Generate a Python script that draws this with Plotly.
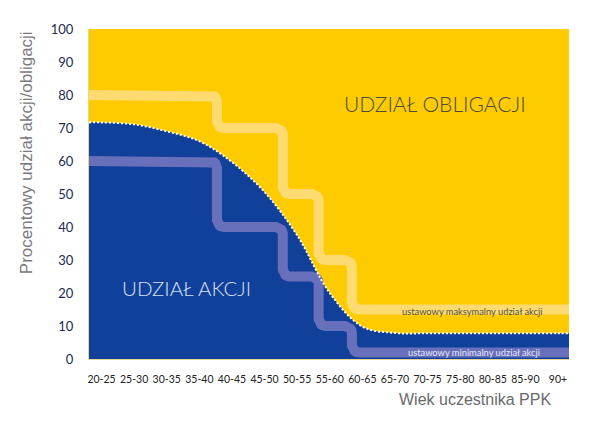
import numpy as np
import plotly.graph_objects as go

# ---- data ----
tick_labels = ["20-25", "25-30", "30-35", "35-40", "40-45", "45-50", "50-55",
               "55-60", "60-65", "65-70", "70-75", "75-80", "80-85", "85-90", "90+"]
age_centers = [22.5, 27.5, 32.5, 37.5, 42.5, 47.5, 52.5, 57.5, 62.5, 67.5, 72.5, 77.5, 82.5, 87.5, 92.5]

# equity share (stock) per age group
stock_share = [71.7, 71.1, 69.0, 66.0, 59.7, 50.6, 37.5, 20.0, 9.8, 7.9, 7.8, 7.8, 7.8, 7.8, 7.8]

# statutory limits (levels and ages where the level changes)
max_levels = [80, 70, 50, 30, 15]
min_levels = [60, 40, 25, 10, 2]
step_ages = [40.2, 50.3, 55.8, 60.9]

XMIN, XMAX = 20.58, 94.19

YELLOW = "#FDCB00"
BLUE = "#11409A"


def rounded_steps(levels, steps, x0, x1, rx, ry, n=8):
    xs, ys = [x0], [levels[0]]
    for i, s in enumerate(steps):
        hi, lo = levels[i], levels[i + 1]
        th = np.linspace(np.pi / 2, 0, n)
        cx, cy = s - rx, hi - ry
        xs += list(cx + rx * np.cos(th)); ys += list(cy + ry * np.sin(th))
        th = np.linspace(np.pi, 1.5 * np.pi, n)
        cx, cy = s + rx, lo + ry
        xs += list(cx + rx * np.cos(th)); ys += list(cy + ry * np.sin(th))
    xs.append(x1); ys.append(levels[-1])
    return xs, ys


fig = go.Figure()

# blue area (stock share)
cx = [XMIN] + age_centers + [XMAX]
cy = [stock_share[0]] + stock_share + [stock_share[-1]]
fig.add_trace(go.Scatter(x=cx, y=cy, mode="lines", line=dict(color=BLUE, width=0, shape="spline", smoothing=1.0),
                         fill="tozeroy", fillcolor=BLUE, hoverinfo="skip", showlegend=False))

rx, ry = 1.07, 2.1
mx, my = rounded_steps(max_levels, step_ages, XMIN, XMAX, rx, ry)
fig.add_trace(go.Scatter(x=mx, y=my, mode="lines", line=dict(color="#FDDB70", width=10),
                         hoverinfo="skip", showlegend=False))
nx, ny = rounded_steps(min_levels, step_ages, XMIN, XMAX, rx, ry)
fig.add_trace(go.Scatter(x=nx, y=ny, mode="lines", line=dict(color="#6870BC", width=10),
                         hoverinfo="skip", showlegend=False))

# dotted boundary
fig.add_trace(go.Scatter(x=cx, y=cy, mode="lines",
                         line=dict(color="white", width=2, dash="2px,2px", shape="spline", smoothing=1.0),
                         hoverinfo="skip", showlegend=False))

ann = [
    dict(x=73.65, y=77.3, text="UDZIAŁ OBLIGACJI", font=dict(family="Lato", size=21, weight=300, color="#4d4a3a")),
    dict(x=35.6, y=21.5, text="UDZIAŁ AKCJI", font=dict(family="Lato", size=20.5, weight=300, color="#d6e2f6")),
    dict(x=79.3, y=14.5, text="ustawowy maksymalny udział akcji", font=dict(family="Lato", size=9.3, color="#555044")),
    dict(x=79.6, y=1.9, text="ustawowy minimalny udział akcji", font=dict(family="Lato", size=9.3, color="#e4e7f7")),
]
for a in ann:
    fig.add_annotation(xref="x", yref="y", showarrow=False, xanchor="center", yanchor="middle", **a)

fig.add_annotation(xref="paper", yref="paper", x=-0.131, y=0.624, text="Procentowy udział akcji/obligacji",
                   textangle=-90, showarrow=False, xanchor="center", yanchor="middle",
                   font=dict(family="Liberation Sans, Arial", size=17, color="#7a7a7a"))
fig.add_annotation(xref="paper", yref="paper", x=0.805, y=-0.124, text="Wiek uczestnika PPK",
                   showarrow=False, xanchor="center", yanchor="middle",
                   font=dict(family="Liberation Sans, Arial", size=16, color="#6a6a6a"))

fig.update_xaxes(range=[XMIN, XMAX], tickvals=age_centers, ticktext=tick_labels,
                 showgrid=False, zeroline=False, showline=True, linecolor="#E8D592", linewidth=1,
                 ticks="outside", ticklen=10, tickcolor="rgba(0,0,0,0)",
                 tickfont=dict(family="Lato", size=10.5, color="#222222"))
fig.update_yaxes(range=[0, 100], tickvals=list(range(0, 101, 10)),
                 showgrid=False, zeroline=False, showline=True, linecolor="#E8D592", linewidth=1,
                 ticks="outside", ticklen=12, tickcolor="rgba(0,0,0,0)",
                 tickfont=dict(family="Lato", size=13, color="#1d2a4d"))

fig.update_layout(width=600, height=423, margin=dict(l=89, r=31, t=29, b=64),
                  plot_bgcolor=YELLOW, paper_bgcolor="white")

fig.write_html("out.html")
